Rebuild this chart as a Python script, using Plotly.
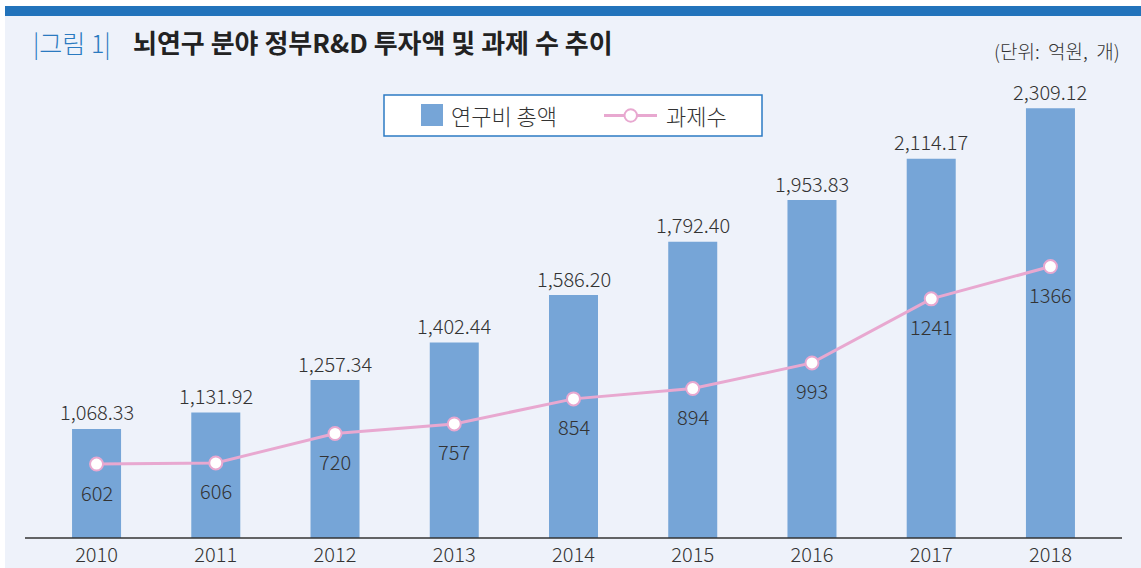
import plotly.graph_objects as go

years = ["2010", "2011", "2012", "2013", "2014", "2015", "2016", "2017", "2018"]
funding = [1068.33, 1131.92, 1257.34, 1402.44, 1586.20, 1792.40, 1953.83, 2114.17, 2309.12]
projects = [602, 606, 720, 757, 854, 894, 993, 1241, 1366]

title_prefix = "|그림 1|"
title_main = "뇌연구 분야 정부R&D 투자액 및 과제 수 추이"
unit_text = "(단위:\u00a0 억원,\u00a0 개)"
legend_bar = "연구비 총액"
legend_line = "과제수"

W, H = 1141, 568
ML, MR, MT, MB = 25, 19, 60, 30
PW = W - ML - MR
PH = H - MT - MB
FONT = "Noto Sans CJK KR"
LIGHT = 300

BAR_C = "#76a5d7"
LINE_C = "#e8a8d0"
BLUE = "#2273bb"
BG = "#eef2fa"
TXT = "#333333"


def px(x):
    return (x - ML) / PW


def py(y):
    return (H - MB - y) / PH


scale = 0.2585  # px per unit
y_lo = 646.6
y2_lo = 315.8
span = PH / scale

fig = go.Figure()
fig.add_trace(go.Bar(x=years, y=funding, width=0.411, marker=dict(color=BAR_C, line=dict(width=0)),
                     showlegend=False, hoverinfo="skip"))
fig.add_trace(go.Scatter(x=years, y=projects, yaxis="y2", mode="lines+markers",
                         line=dict(color=LINE_C, width=3),
                         marker=dict(size=13, color="white", line=dict(color=LINE_C, width=2)),
                         showlegend=False, hoverinfo="skip"))

annotations = []
for i, v in enumerate(funding):
    annotations.append(dict(x=i, y=v, xref="x", yref="y", text=f"{v:,.2f}", showarrow=False,
                            yshift=17, font=dict(family=FONT, size=20, color=TXT, weight=LIGHT)))
for i, v in enumerate(projects):
    annotations.append(dict(x=i, y=v, xref="x", yref="y2", text=str(v), showarrow=False,
                            yshift=-28, font=dict(family=FONT, size=20, color=TXT, weight=LIGHT)))

annotations += [
    dict(x=px(31), y=py(42), xref="paper", yref="paper", xanchor="left", yanchor="middle",
         text=title_prefix, showarrow=False, font=dict(family=FONT, size=25, color="#2a7ac0", weight=LIGHT)),
    dict(x=px(131), y=py(42), xref="paper", yref="paper", xanchor="left", yanchor="middle",
         text="<b>" + title_main + "</b>", showarrow=False, font=dict(family=FONT, size=26, color="#222222")),
    dict(x=px(1122), y=py(50), xref="paper", yref="paper", xanchor="right", yanchor="middle",
         text=unit_text, showarrow=False, font=dict(family=FONT, size=19, color=TXT, weight=LIGHT)),
    dict(x=px(449), y=py(115), xref="paper", yref="paper", xanchor="left", yanchor="middle",
         text=legend_bar, showarrow=False, font=dict(family=FONT, size=22, color=TXT, weight=LIGHT)),
    dict(x=px(664), y=py(115), xref="paper", yref="paper", xanchor="left", yanchor="middle",
         text=legend_line, showarrow=False, font=dict(family=FONT, size=22, color=TXT, weight=LIGHT)),
]

shapes = [
    dict(type="rect", xref="paper", yref="paper", x0=px(5), x1=px(W), y0=py(16), y1=py(H),
         fillcolor=BG, line=dict(width=0), layer="below"),
    dict(type="rect", xref="paper", yref="paper", x0=px(5), x1=px(W), y0=py(6), y1=py(16),
         fillcolor=BLUE, line=dict(width=0), layer="below"),
    # axis line
    dict(type="line", xref="paper", yref="paper", x0=px(25), x1=px(1122), y0=0, y1=0,
         line=dict(color="#333333", width=1.5)),
    # legend box
    dict(type="rect", xref="paper", yref="paper", x0=px(384), x1=px(762), y0=py(95), y1=py(136),
         fillcolor="white", line=dict(color="#2c7bc4", width=1.5)),
    dict(type="rect", xref="paper", yref="paper", x0=px(421), x1=px(443), y0=py(104), y1=py(126),
         fillcolor=BAR_C, line=dict(width=0)),
    dict(type="line", xref="paper", yref="paper", x0=px(604), x1=px(657), y0=py(115.5), y1=py(115.5),
         line=dict(color=LINE_C, width=3)),
    dict(type="circle", xref="paper", yref="paper", x0=px(624.5), x1=px(637), y0=py(109.3), y1=py(121.7),
         fillcolor="white", line=dict(color=LINE_C, width=2)),
]

fig.update_layout(
    template="none",
    width=W, height=H,
    margin=dict(l=ML, r=MR, t=MT, b=MB, pad=0),
    paper_bgcolor="white", plot_bgcolor="rgba(0,0,0,0)",
    xaxis=dict(type="category", range=[-0.6, 8.6], showgrid=False, zeroline=False, showline=False,
               ticks="", tickfont=dict(family=FONT, size=20, color=TXT, weight=LIGHT), ticklabelstandoff=3,
               automargin=False, fixedrange=True),
    yaxis=dict(range=[y_lo, y_lo + span], visible=False, showgrid=False, automargin=False, fixedrange=True),
    yaxis2=dict(range=[y2_lo, y2_lo + span], overlaying="y", visible=False, showgrid=False,
                automargin=False, fixedrange=True),
    showlegend=False,
    annotations=annotations,
    shapes=shapes,
)

fig.write_html(
    "out.html",
    config={"displayModeBar": False, "staticPlot": True},
    post_script="document.documentElement.style.margin='0';document.body.style.margin='0';"
                "document.body.style.overflow='hidden';",
)
